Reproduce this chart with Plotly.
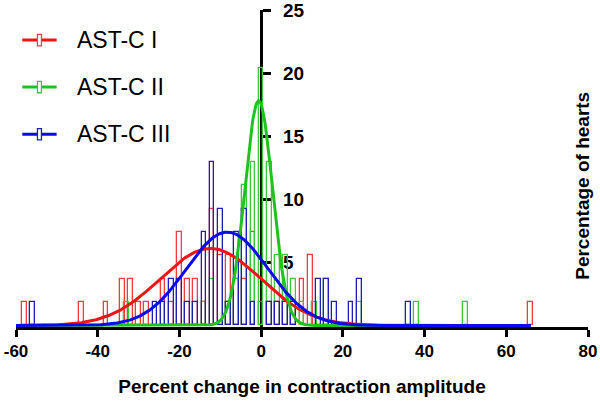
import numpy as np
import plotly.graph_objects as go

# ---------------- data ----------------
series_names = ["AST-C I", "AST-C II", "AST-C III"]

# histogram bin centres (percent change) and percentage of hearts
red_bins = [-58, -44, -38, -34, -32, -30, -28, -24, -22, -20, -18, -16, -14, -12, -10, -8, -6, -4, -2, 0, 2, 4, 6, 8, 10, 12, 66]
red_pct = [1.85, 1.85, 1.85, 3.70, 3.70, 1.85, 1.85, 3.70, 1.85, 7.41, 3.70, 3.70, 1.85, 9.26, 5.56, 5.56, 3.70, 3.70, 7.41, 1.85, 1.85, 1.85, 1.85, 1.85, 3.70, 5.56, 1.85]

green_bins = [-33, -14, -12, -8, -6, -4, -2, 0, 2, 4, 6, 8, 10, 13, 16, 24, 38, 50]
green_pct = [1.85, 1.85, 3.70, 1.85, 3.70, 11.11, 12.96, 20.37, 12.96, 5.56, 5.56, 3.70, 1.85, 1.85, 3.70, 1.85, 1.85, 1.85]

blue_bins = [-56, -26, -24, -22, -20, -18, -16, -14, -12, -10, -8, -6, -4, -2, 2, 4, 6, 8, 14, 16, 18, 22, 24, 36]
blue_pct = [1.85, 1.85, 1.85, 3.70, 3.70, 1.85, 1.85, 7.41, 12.96, 9.26, 1.85, 7.41, 9.26, 1.85, 1.85, 1.85, 1.85, 1.85, 3.70, 3.70, 1.85, 1.85, 3.70, 1.85]

# Gaussian fit parameters (mean, SD, peak height)
fit_mean = [-12.4, -0.6, -8.3]
fit_sd = [12.3, 3.4, 10.0]
fit_peak = [6.1, 17.8, 7.4]
fit_range = [-60, 66]

x_tickvals = [-60, -40, -20, 0, 20, 40, 60, 80]
x_ticktext = ["-60", "-40", "-20", "0", "20", "40", "60", "80"]
y_tickvals = [5, 10, 15, 20, 25]
y_ticktext = ["5", "10", "15", "20", "25"]

x_title = "Percent change in contraction amplitude"
y_title = "Percentage of hearts"

# ---------------- styling ----------------
bar_colors = ["#F03C3C", "#3CC83C", "#1E1EB4"]
curve_colors = ["#F01414", "#1EC31E", "#0A0AEB"]
FONT = "Arial, Liberation Sans, sans-serif"

fig = go.Figure()

bins_all = [red_bins, green_bins, blue_bins]
pct_all = [red_pct, green_pct, blue_pct]
for i in range(3):
    fig.add_trace(go.Bar(
        x=bins_all[i], y=pct_all[i], width=1.15, name=series_names[i],
        marker=dict(color="rgba(0,0,0,0)", line=dict(color=bar_colors[i], width=1.3)),
        showlegend=False, hoverinfo="x+y",
    ))

xs = np.linspace(fit_range[0], fit_range[1], 600)
for i in range(3):
    ys = fit_peak[i] * np.exp(-((xs - fit_mean[i]) ** 2) / (2 * fit_sd[i] ** 2))
    fig.add_trace(go.Scatter(
        x=xs, y=ys, mode="lines", name=series_names[i] + " fit",
        line=dict(color=curve_colors[i], width=3), showlegend=False,
    ))

# manual legend (paper coordinates)
legend_y = [0.905, 0.757, 0.608]
for i in range(3):
    fig.add_shape(type="line", xref="paper", yref="paper",
                  x0=0.011, x1=0.071, y0=legend_y[i], y1=legend_y[i],
                  line=dict(color=curve_colors[i], width=3))
    fig.add_shape(type="rect", xref="paper", yref="paper",
                  x0=0.0375, x1=0.0445, y0=legend_y[i] - 0.018, y1=legend_y[i] + 0.018,
                  fillcolor="white", line=dict(color=bar_colors[i], width=1.3))
    fig.add_annotation(xref="paper", yref="paper", x=0.104, y=legend_y[i],
                       xanchor="left", yanchor="middle", showarrow=False,
                       text=series_names[i], font=dict(family=FONT, size=23, color="black"))

fig.add_annotation(xref="paper", yref="paper", x=0.991, y=0.445, xanchor="center", yanchor="middle",
                   showarrow=False, textangle=-90, text="<b>" + y_title + "</b>",
                   font=dict(family=FONT, size=19, color="black"))

fig.update_layout(
    width=600, height=411,
    margin=dict(l=16, r=12, t=10, b=84, autoexpand=False),
    paper_bgcolor="white", plot_bgcolor="white",
    barmode="overlay", bargap=0,
    font=dict(family=FONT, color="black"),
    showlegend=False,
    xaxis=dict(
        range=[-60, 80], tickvals=x_tickvals, ticktext=x_ticktext, automargin=False,
        showgrid=False, zeroline=False, showline=True, linecolor="black", linewidth=3,
        ticks="outside", ticklen=7, tickwidth=3, tickcolor="black",
        ticklabeloverflow="allow",
        tickfont=dict(family=FONT, size=17, color="black", weight="bold"),
        title=dict(text="<b>" + x_title + "</b>", standoff=20,
                   font=dict(family=FONT, size=19, color="black")),
        layer="below traces",
    ),
    yaxis=dict(
        range=[-0.12, 25], tickvals=y_tickvals, ticktext=y_ticktext, automargin=False,
        anchor="free", position=60 / 140, side="right",
        showgrid=False, zeroline=False, showline=True, linecolor="black", linewidth=3,
        ticks="outside", ticklen=8, tickwidth=3, tickcolor="black",
        ticklabelstandoff=8, ticklabeloverflow="allow",
        tickfont=dict(family=FONT, size=19, color="black", weight="bold"),
        layer="below traces",
    ),
)

fig.write_html("out.html", config={"displayModeBar": False},
               post_script="document.body.style.margin='0px';")
